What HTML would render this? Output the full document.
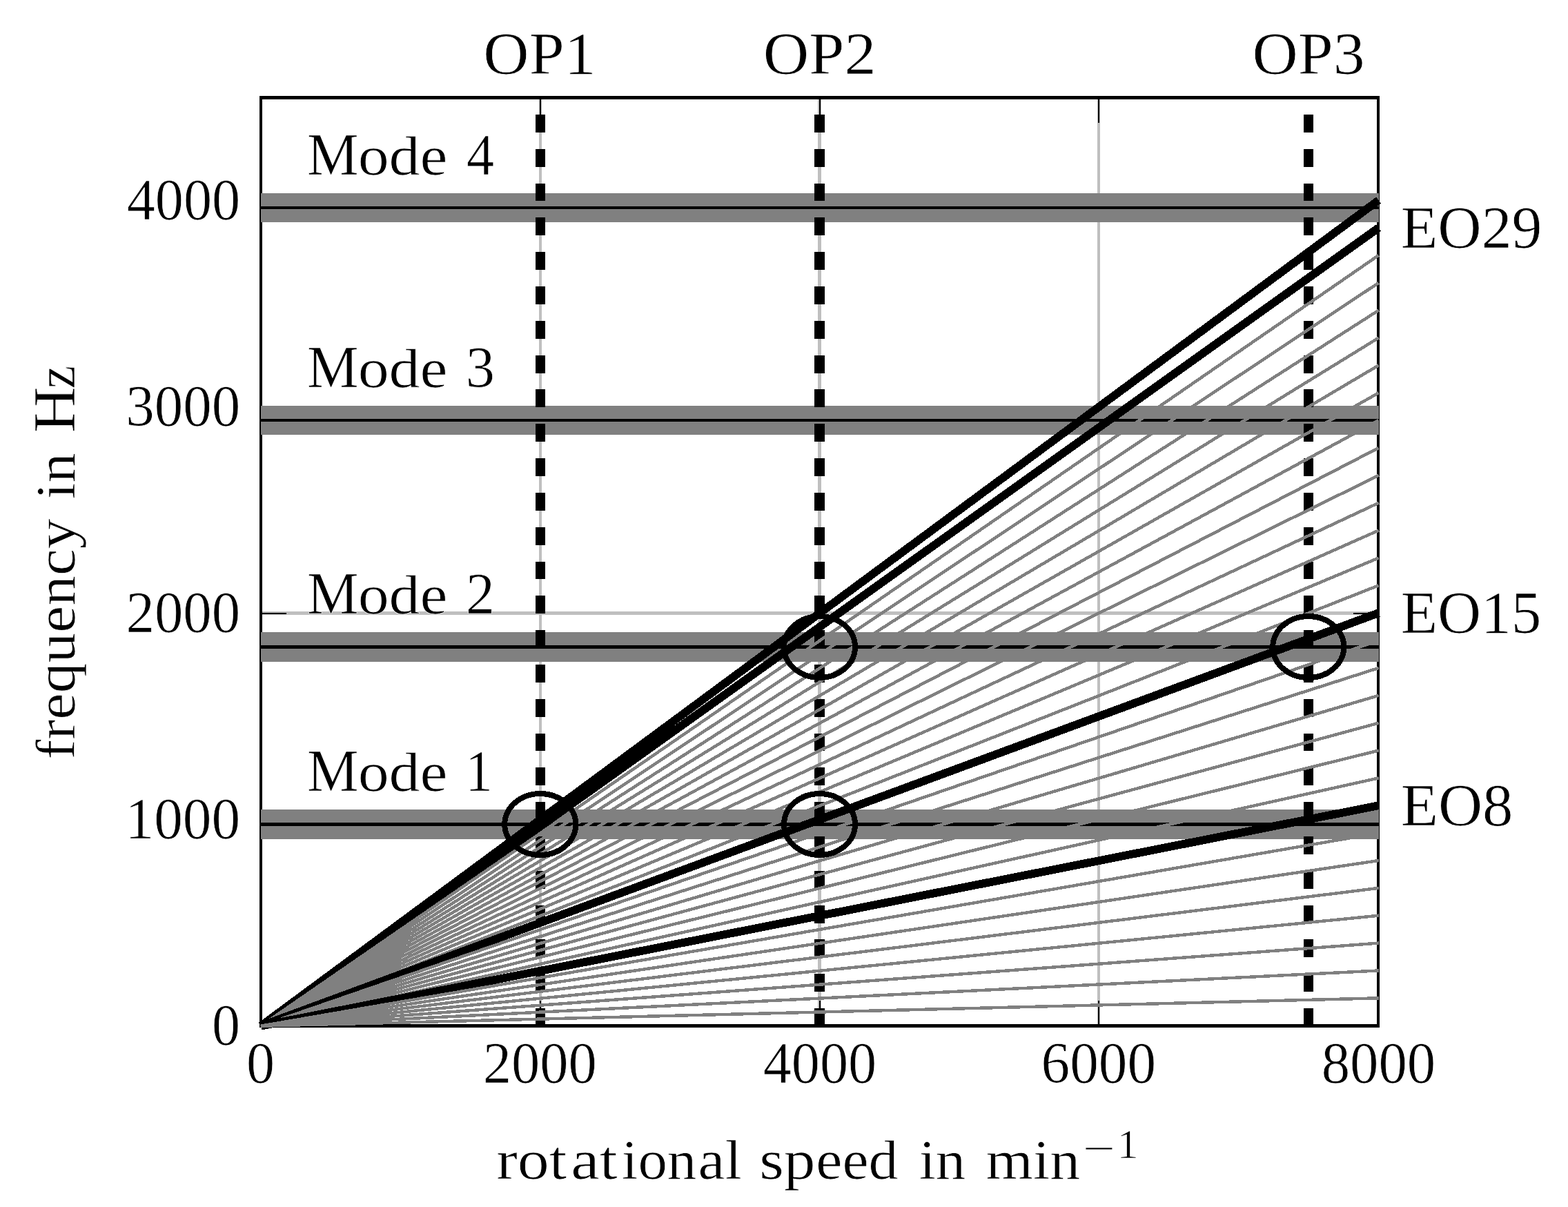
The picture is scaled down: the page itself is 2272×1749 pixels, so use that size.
<!DOCTYPE html>
<html lang="en">
<head>
<meta charset="utf-8">
<title>Campbell diagram</title>
<style>
html,body{margin:0;padding:0;background:#fff;}
body{width:2272px;height:1749px;}
svg{display:block;}
text{font-family:"Liberation Serif","DejaVu Serif",serif;fill:#000;stroke:#fff;stroke-width:0.7px;stroke-linejoin:round;}
</style>
</head>
<body>
<svg width="2272" height="1749" viewBox="0 0 2272 1749" role="img" aria-label="Campbell diagram: frequency in Hz over rotational speed">
<rect x="0" y="0" width="2272" height="1749" fill="#ffffff"/>
<g id="grid" fill="#bfbfbf" shape-rendering="crispEdges">
<rect x="781" y="141.5" width="4" height="1345.0"/>
<rect x="1185" y="141.5" width="5" height="1345.0"/>
<rect x="1590" y="141.5" width="4" height="1345.0"/>
<rect x="378.0" y="1185" width="1619.0" height="5"/>
<rect x="378.0" y="886" width="1619.0" height="5"/>
<rect x="378.0" y="588" width="1619.0" height="4"/>
<rect x="378.0" y="289" width="1619.0" height="4"/>
</g>
<g id="ticks" fill="#000" shape-rendering="crispEdges">
<rect x="782" y="141.5" width="2" height="36.5"/>
<rect x="782" y="1450.0" width="2" height="36.5"/>
<rect x="1187" y="141.5" width="2" height="36.5"/>
<rect x="1187" y="1450.0" width="2" height="36.5"/>
<rect x="1591" y="141.5" width="2" height="36.5"/>
<rect x="1591" y="1450.0" width="2" height="36.5"/>
<rect x="378.0" y="1187" width="36.5" height="2"/>
<rect x="1960.5" y="1187" width="36.5" height="2"/>
<rect x="378.0" y="888" width="36.5" height="2"/>
<rect x="1960.5" y="888" width="36.5" height="2"/>
<rect x="378.0" y="589" width="36.5" height="2"/>
<rect x="1960.5" y="589" width="36.5" height="2"/>
<rect x="378.0" y="290" width="36.5" height="2"/>
<rect x="1960.5" y="290" width="36.5" height="2"/>
</g>
<g id="frame" fill="#000" shape-rendering="crispEdges">
<rect x="376" y="139" width="1623" height="5"/>
<rect x="376" y="1484" width="1623" height="5"/>
<rect x="376" y="139" width="4" height="1350"/>
<rect x="1995" y="139" width="4" height="1350"/>
</g>
<g id="modes" shape-rendering="crispEdges">
<rect x="378.0" y="1173" width="1620.0" height="43" fill="#808080"/>
<rect x="378.0" y="1192" width="1620.0" height="5" fill="#000"/>
<rect x="378.0" y="916" width="1620.0" height="43" fill="#808080"/>
<rect x="378.0" y="935" width="1620.0" height="5" fill="#000"/>
<rect x="378.0" y="588" width="1620.0" height="42" fill="#808080"/>
<rect x="378.0" y="607" width="1620.0" height="4" fill="#000"/>
<rect x="378.0" y="280" width="1620.0" height="42" fill="#808080"/>
<rect x="378.0" y="299" width="1620.0" height="4" fill="#000"/>
</g>
<g id="ops" fill="#000" shape-rendering="crispEdges">
<rect x="776" y="1461" width="14" height="26"/>
<rect x="776" y="1411" width="14" height="26"/>
<rect x="776" y="1361" width="14" height="26"/>
<rect x="776" y="1312" width="14" height="26"/>
<rect x="776" y="1262" width="14" height="26"/>
<rect x="776" y="1212" width="14" height="26"/>
<rect x="776" y="1162" width="14" height="26"/>
<rect x="776" y="1112" width="14" height="26"/>
<rect x="776" y="1063" width="14" height="25"/>
<rect x="776" y="1013" width="14" height="26"/>
<rect x="776" y="963" width="14" height="26"/>
<rect x="776" y="913" width="14" height="26"/>
<rect x="776" y="863" width="14" height="26"/>
<rect x="776" y="814" width="14" height="25"/>
<rect x="776" y="764" width="14" height="26"/>
<rect x="776" y="714" width="14" height="26"/>
<rect x="776" y="664" width="14" height="26"/>
<rect x="776" y="614" width="14" height="26"/>
<rect x="776" y="564" width="14" height="26"/>
<rect x="776" y="515" width="14" height="26"/>
<rect x="776" y="465" width="14" height="26"/>
<rect x="776" y="415" width="14" height="26"/>
<rect x="776" y="365" width="14" height="26"/>
<rect x="776" y="315" width="14" height="26"/>
<rect x="776" y="266" width="14" height="25"/>
<rect x="776" y="216" width="14" height="26"/>
<rect x="776" y="166" width="14" height="26"/>
<rect x="1180" y="1461" width="15" height="26"/>
<rect x="1180" y="1411" width="15" height="26"/>
<rect x="1180" y="1361" width="15" height="26"/>
<rect x="1180" y="1312" width="15" height="26"/>
<rect x="1180" y="1262" width="15" height="26"/>
<rect x="1180" y="1212" width="15" height="26"/>
<rect x="1180" y="1162" width="15" height="26"/>
<rect x="1180" y="1112" width="15" height="26"/>
<rect x="1180" y="1063" width="15" height="25"/>
<rect x="1180" y="1013" width="15" height="26"/>
<rect x="1180" y="963" width="15" height="26"/>
<rect x="1180" y="913" width="15" height="26"/>
<rect x="1180" y="863" width="15" height="26"/>
<rect x="1180" y="814" width="15" height="25"/>
<rect x="1180" y="764" width="15" height="26"/>
<rect x="1180" y="714" width="15" height="26"/>
<rect x="1180" y="664" width="15" height="26"/>
<rect x="1180" y="614" width="15" height="26"/>
<rect x="1180" y="564" width="15" height="26"/>
<rect x="1180" y="515" width="15" height="26"/>
<rect x="1180" y="465" width="15" height="26"/>
<rect x="1180" y="415" width="15" height="26"/>
<rect x="1180" y="365" width="15" height="26"/>
<rect x="1180" y="315" width="15" height="26"/>
<rect x="1180" y="266" width="15" height="25"/>
<rect x="1180" y="216" width="15" height="26"/>
<rect x="1180" y="166" width="15" height="26"/>
<rect x="1889" y="1461" width="14" height="26"/>
<rect x="1889" y="1411" width="14" height="26"/>
<rect x="1889" y="1361" width="14" height="26"/>
<rect x="1889" y="1312" width="14" height="26"/>
<rect x="1889" y="1262" width="14" height="26"/>
<rect x="1889" y="1212" width="14" height="26"/>
<rect x="1889" y="1162" width="14" height="26"/>
<rect x="1889" y="1112" width="14" height="26"/>
<rect x="1889" y="1063" width="14" height="25"/>
<rect x="1889" y="1013" width="14" height="26"/>
<rect x="1889" y="963" width="14" height="26"/>
<rect x="1889" y="913" width="14" height="26"/>
<rect x="1889" y="863" width="14" height="26"/>
<rect x="1889" y="814" width="14" height="25"/>
<rect x="1889" y="764" width="14" height="26"/>
<rect x="1889" y="714" width="14" height="26"/>
<rect x="1889" y="664" width="14" height="26"/>
<rect x="1889" y="614" width="14" height="26"/>
<rect x="1889" y="564" width="14" height="26"/>
<rect x="1889" y="515" width="14" height="26"/>
<rect x="1889" y="465" width="14" height="26"/>
<rect x="1889" y="415" width="14" height="26"/>
<rect x="1889" y="365" width="14" height="26"/>
<rect x="1889" y="315" width="14" height="26"/>
<rect x="1889" y="266" width="14" height="25"/>
<rect x="1889" y="216" width="14" height="26"/>
<rect x="1889" y="166" width="14" height="26"/>
</g>
<g id="eo" fill="none" shape-rendering="crispEdges">
<line x1="378.00" y1="1486.70" x2="1997.64" y2="290.17" stroke="#000" stroke-width="11.8"/>
<line x1="378.00" y1="1486.70" x2="1997.65" y2="330.03" stroke="#000" stroke-width="11.8"/>
<line x1="378.00" y1="1486.70" x2="1997.66" y2="369.89" stroke="#808080" stroke-width="4.45"/>
<line x1="378.00" y1="1486.70" x2="1997.67" y2="409.76" stroke="#808080" stroke-width="4.45"/>
<line x1="378.00" y1="1486.70" x2="1997.67" y2="449.62" stroke="#808080" stroke-width="4.45"/>
<line x1="378.00" y1="1486.70" x2="1997.68" y2="489.48" stroke="#808080" stroke-width="4.45"/>
<line x1="378.00" y1="1486.70" x2="1997.69" y2="529.35" stroke="#808080" stroke-width="4.45"/>
<line x1="378.00" y1="1486.70" x2="1997.70" y2="569.21" stroke="#808080" stroke-width="4.45"/>
<line x1="378.00" y1="1486.70" x2="1997.70" y2="609.08" stroke="#808080" stroke-width="4.45"/>
<line x1="378.00" y1="1486.70" x2="1997.71" y2="648.94" stroke="#808080" stroke-width="4.45"/>
<line x1="378.00" y1="1486.70" x2="1997.72" y2="688.81" stroke="#808080" stroke-width="4.45"/>
<line x1="378.00" y1="1486.70" x2="1997.72" y2="728.68" stroke="#808080" stroke-width="4.45"/>
<line x1="378.00" y1="1486.70" x2="1997.73" y2="768.54" stroke="#808080" stroke-width="4.45"/>
<line x1="378.00" y1="1486.70" x2="1997.74" y2="808.41" stroke="#808080" stroke-width="4.45"/>
<line x1="378.00" y1="1486.70" x2="1997.74" y2="848.28" stroke="#808080" stroke-width="4.45"/>
<line x1="378.00" y1="1486.70" x2="1997.75" y2="888.14" stroke="#000" stroke-width="11.8"/>
<line x1="378.00" y1="1486.70" x2="1997.76" y2="928.01" stroke="#808080" stroke-width="4.45"/>
<line x1="378.00" y1="1486.70" x2="1997.76" y2="967.88" stroke="#808080" stroke-width="4.45"/>
<line x1="378.00" y1="1486.70" x2="1997.77" y2="1007.75" stroke="#808080" stroke-width="4.45"/>
<line x1="378.00" y1="1486.70" x2="1997.77" y2="1047.62" stroke="#808080" stroke-width="4.45"/>
<line x1="378.00" y1="1486.70" x2="1997.78" y2="1087.49" stroke="#808080" stroke-width="4.45"/>
<line x1="378.00" y1="1486.70" x2="1997.78" y2="1127.36" stroke="#808080" stroke-width="4.45"/>
<line x1="378.00" y1="1486.70" x2="1997.78" y2="1167.23" stroke="#000" stroke-width="11.8"/>
<line x1="378.00" y1="1486.70" x2="1997.79" y2="1207.10" stroke="#808080" stroke-width="4.45"/>
<line x1="378.00" y1="1486.70" x2="1997.79" y2="1246.97" stroke="#808080" stroke-width="4.45"/>
<line x1="378.00" y1="1486.70" x2="1997.79" y2="1286.84" stroke="#808080" stroke-width="4.45"/>
<line x1="378.00" y1="1486.70" x2="1997.80" y2="1326.71" stroke="#808080" stroke-width="4.45"/>
<line x1="378.00" y1="1486.70" x2="1997.80" y2="1366.59" stroke="#808080" stroke-width="4.45"/>
<line x1="378.00" y1="1486.70" x2="1997.80" y2="1406.46" stroke="#808080" stroke-width="4.45"/>
<line x1="378.00" y1="1486.70" x2="1997.80" y2="1446.33" stroke="#808080" stroke-width="4.45"/>
</g>
<g id="circles" stroke="#000" stroke-width="8.0" fill="none" shape-rendering="crispEdges">
<ellipse cx="782.8" cy="1194.5" rx="51.5" ry="44.5"/>
<ellipse cx="1187.5" cy="1194.5" rx="51.5" ry="44.5"/>
<ellipse cx="1187.5" cy="937.5" rx="51.5" ry="44.5"/>
<ellipse cx="1895.8" cy="937.5" rx="51.5" ry="44.5"/>
</g>
<g id="labels">
<text id="yt0" y="1514.0" xml:space="preserve"><tspan x="307.07" y="1514.0" font-size="84" textLength="41.07" lengthAdjust="spacingAndGlyphs">0</tspan></text>
<text id="yt1000" y="1215.1" xml:space="preserve"><tspan x="181.46" y="1215.1" font-size="84" textLength="166.72" lengthAdjust="spacingAndGlyphs">1000</tspan></text>
<text id="yt2000" y="916.2" xml:space="preserve"><tspan x="182.56" y="916.2" font-size="84" textLength="165.60" lengthAdjust="spacingAndGlyphs">2000</tspan></text>
<text id="yt3000" y="617.3" xml:space="preserve"><tspan x="182.25" y="617.3" font-size="84" textLength="165.91" lengthAdjust="spacingAndGlyphs">3000</tspan></text>
<text id="yt4000" y="318.4" xml:space="preserve"><tspan x="183.64" y="318.4" font-size="84" textLength="164.50" lengthAdjust="spacingAndGlyphs">4000</tspan></text>
<text id="xt0" y="1568.9" xml:space="preserve"><tspan x="357.07" y="1568.9" font-size="84" textLength="41.07" lengthAdjust="spacingAndGlyphs">0</tspan></text>
<text id="xt2000" y="1568.9" xml:space="preserve"><tspan x="699.87" y="1568.9" font-size="84" textLength="164.97" lengthAdjust="spacingAndGlyphs">2000</tspan></text>
<text id="xt4000" y="1568.9" xml:space="preserve"><tspan x="1105.74" y="1568.9" font-size="84" textLength="164.50" lengthAdjust="spacingAndGlyphs">4000</tspan></text>
<text id="xt6000" y="1568.9" xml:space="preserve"><tspan x="1508.53" y="1568.9" font-size="84" textLength="166.54" lengthAdjust="spacingAndGlyphs">6000</tspan></text>
<text id="xt8000" y="1568.9" xml:space="preserve"><tspan x="1914.74" y="1568.9" font-size="84" textLength="165.51" lengthAdjust="spacingAndGlyphs">8000</tspan></text>
<text id="op1" y="107.3" xml:space="preserve"><tspan x="700.38" y="107.3" font-size="87" textLength="163.15" lengthAdjust="spacingAndGlyphs">OP1</tspan></text>
<text id="op2" y="107.3" xml:space="preserve"><tspan x="1105.76" y="107.3" font-size="87" textLength="163.83" lengthAdjust="spacingAndGlyphs">OP2</tspan></text>
<text id="op3" y="107.3" xml:space="preserve"><tspan x="1814.48" y="107.3" font-size="87" textLength="163.24" lengthAdjust="spacingAndGlyphs">OP3</tspan></text>
<text id="mode1" y="1146.0" xml:space="preserve"><tspan x="445.01" y="1146.0" font-size="87" textLength="74.46" lengthAdjust="spacingAndGlyphs">M</tspan><tspan x="518.67" y="1146.0" font-size="81" textLength="129.70" lengthAdjust="spacingAndGlyphs">ode</tspan> <tspan x="674.27" y="1146.0" font-size="84" textLength="39.54" lengthAdjust="spacingAndGlyphs">1</tspan></text>
<text id="mode2" y="889.0" xml:space="preserve"><tspan x="445.01" y="889.0" font-size="87" textLength="74.46" lengthAdjust="spacingAndGlyphs">M</tspan><tspan x="518.67" y="889.0" font-size="81" textLength="129.70" lengthAdjust="spacingAndGlyphs">ode</tspan> <tspan x="675.11" y="889.0" font-size="84" textLength="41.87" lengthAdjust="spacingAndGlyphs">2</tspan></text>
<text id="mode3" y="560.5" xml:space="preserve"><tspan x="445.01" y="560.5" font-size="87" textLength="74.46" lengthAdjust="spacingAndGlyphs">M</tspan><tspan x="518.67" y="560.5" font-size="81" textLength="129.70" lengthAdjust="spacingAndGlyphs">ode</tspan> <tspan x="674.78" y="560.5" font-size="84" textLength="42.25" lengthAdjust="spacingAndGlyphs">3</tspan></text>
<text id="mode4" y="252.5" xml:space="preserve"><tspan x="445.01" y="252.5" font-size="87" textLength="74.46" lengthAdjust="spacingAndGlyphs">M</tspan><tspan x="518.67" y="252.5" font-size="81" textLength="129.70" lengthAdjust="spacingAndGlyphs">ode</tspan> <tspan x="675.99" y="252.5" font-size="84" textLength="40.12" lengthAdjust="spacingAndGlyphs">4</tspan></text>
<text id="eo8" y="1196.2" xml:space="preserve"><tspan x="2029.74" y="1196.2" font-size="87" textLength="162.72" lengthAdjust="spacingAndGlyphs">EO8</tspan></text>
<text id="eo15" y="916.9" xml:space="preserve"><tspan x="2029.79" y="916.9" font-size="87" textLength="203.50" lengthAdjust="spacingAndGlyphs">EO15</tspan></text>
<text id="eo29" y="358.8" xml:space="preserve"><tspan x="2029.77" y="358.8" font-size="87" textLength="204.74" lengthAdjust="spacingAndGlyphs">EO29</tspan></text>
<text id="xlabel" y="1708.2" xml:space="preserve"><tspan x="719.23" y="1708.2" font-size="81" textLength="102.09" lengthAdjust="spacingAndGlyphs">rot</tspan><tspan x="827.34" y="1708.2" font-size="81" textLength="67.40" lengthAdjust="spacingAndGlyphs">at</tspan><tspan x="900.80" y="1708.2" font-size="81" textLength="108.48" lengthAdjust="spacingAndGlyphs">ion</tspan><tspan x="1011.56" y="1708.2" font-size="81" textLength="63.23" lengthAdjust="spacingAndGlyphs">al</tspan> <tspan x="1100.18" y="1708.2" font-size="81" textLength="81.34" lengthAdjust="spacingAndGlyphs">sp</tspan><tspan x="1182.32" y="1708.2" font-size="81" textLength="119.17" lengthAdjust="spacingAndGlyphs">eed</tspan> <tspan x="1331.66" y="1708.2" font-size="81" textLength="67.53" lengthAdjust="spacingAndGlyphs">in</tspan> <tspan x="1428.63" y="1708.2" font-size="81" textLength="136.57" lengthAdjust="spacingAndGlyphs">min</tspan><tspan x="1568.83" y="1683.6" font-size="59" textLength="47.33" lengthAdjust="spacingAndGlyphs">−</tspan><tspan x="1618.64" y="1678.3" font-size="59" textLength="31.27" lengthAdjust="spacingAndGlyphs">1</tspan></text>
<text id="ylabel" y="0.0" transform="translate(108.1,0) rotate(-90)" xml:space="preserve"><tspan x="-1100.51" y="0.0" font-size="81" textLength="96.11" lengthAdjust="spacingAndGlyphs">fre</tspan><tspan x="-1004.24" y="0.0" font-size="81" textLength="126.33" lengthAdjust="spacingAndGlyphs">que</tspan><tspan x="-877.76" y="0.0" font-size="81" textLength="126.08" lengthAdjust="spacingAndGlyphs">ncy</tspan> <tspan x="-723.53" y="0.0" font-size="81" textLength="67.11" lengthAdjust="spacingAndGlyphs">in</tspan> <tspan x="-627.08" y="0.0" font-size="87" textLength="66.70" lengthAdjust="spacingAndGlyphs">H</tspan><tspan x="-563.26" y="0.0" font-size="81" textLength="33.52" lengthAdjust="spacingAndGlyphs">z</tspan></text>
</g>
</svg>
</body>
</html>
